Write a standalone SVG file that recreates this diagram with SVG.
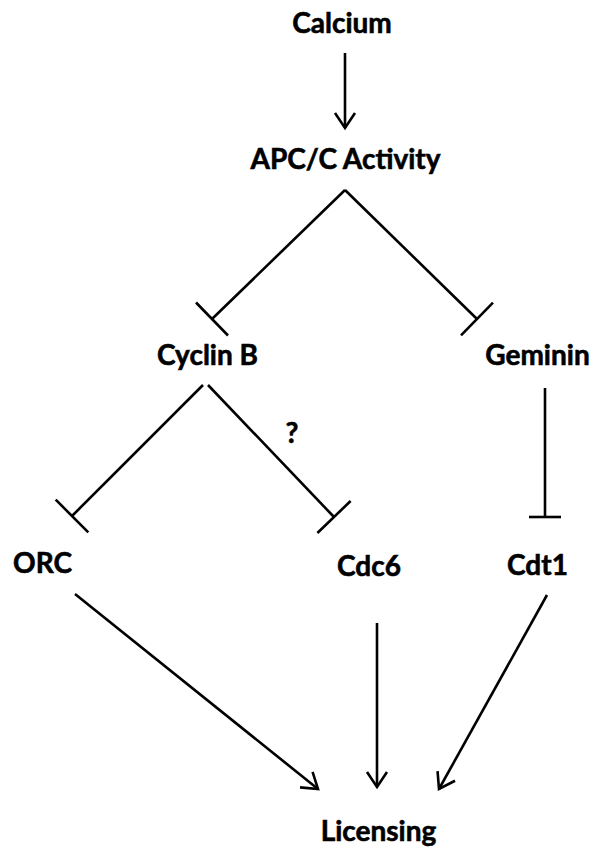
<svg xmlns="http://www.w3.org/2000/svg" width="595" height="848" viewBox="0 0 595 848">
  <style>
    .lbl { font-family: Lato, "Open Sans", "Liberation Sans", sans-serif; font-weight: bold; font-size: 28px; fill: #000; stroke: #000; stroke-width: 0.6; text-anchor: middle; }
    .edge { stroke: #000; stroke-width: 2.6; fill: none; stroke-linecap: butt; }
  </style>
  <defs>
    <marker id="arrow" markerUnits="userSpaceOnUse" markerWidth="30" markerHeight="30" viewBox="-20 -15 25 30" refX="0" refY="0" orient="auto" overflow="visible">
      <path d="M -15 -10 L 0 0 L -15 10" fill="none" stroke="#000" stroke-width="2.6"/>
    </marker>
  </defs>
  <rect x="0" y="0" width="595" height="848" fill="#fff"/>

  <g id="connectors">
    <line class="edge" x1="345" y1="53" x2="345" y2="128" stroke-width="3" marker-end="url(#arrow)"/>
    <!-- APC/C -| Cyclin B -->
    <line class="edge" x1="345" y1="190" x2="212" y2="319"/>
    <line class="edge" x1="196" y1="302.5" x2="228" y2="335.5"/>
    <!-- APC/C -| Geminin -->
    <line class="edge" x1="345" y1="190" x2="477" y2="319"/>
    <line class="edge" x1="493" y1="302.6" x2="461" y2="335.4"/>
    <!-- Cyclin B -| ORC -->
    <line class="edge" x1="203" y1="385" x2="72" y2="516"/>
    <line class="edge" x1="55.7" y1="499.7" x2="88.3" y2="532.3"/>
    <!-- Cyclin B -| Cdc6 -->
    <line class="edge" x1="208" y1="385" x2="334" y2="517"/>
    <line class="edge" x1="350.6" y1="501" x2="317.4" y2="533"/>
    <!-- Geminin -| Cdt1 -->
    <line class="edge" x1="545" y1="388" x2="545" y2="517" stroke-width="3"/>
    <line class="edge" x1="529" y1="517" x2="561" y2="517" stroke-width="3"/>
    <!-- to Licensing -->
    <line class="edge" x1="75" y1="594" x2="318" y2="789" marker-end="url(#arrow)"/>
    <line class="edge" x1="377" y1="623" x2="377" y2="787" marker-end="url(#arrow)"/>
    <line class="edge" x1="547" y1="595" x2="439" y2="789" marker-end="url(#arrow)"/>
  </g>

  <g id="calcium"><text class="lbl" x="342" y="33">Calcium</text></g>
  <g id="apcc"><text class="lbl" x="345.5" y="169">APC/C Activity</text></g>
  <g id="cyclinb"><text class="lbl" x="207.5" y="365">Cyclin B</text></g>
  <g id="geminin"><text class="lbl" x="537.5" y="365">Geminin</text></g>
  <g id="question"><text class="lbl" x="292" y="443">?</text></g>
  <g id="orc"><text class="lbl" x="42.5" y="573">ORC</text></g>
  <g id="cdc6"><text class="lbl" x="369" y="576">Cdc6</text></g>
  <g id="cdt1"><text class="lbl" x="537.5" y="575">Cdt1</text></g>
  <g id="licensing"><text class="lbl" x="378.5" y="841">Licensing</text></g>
</svg>
